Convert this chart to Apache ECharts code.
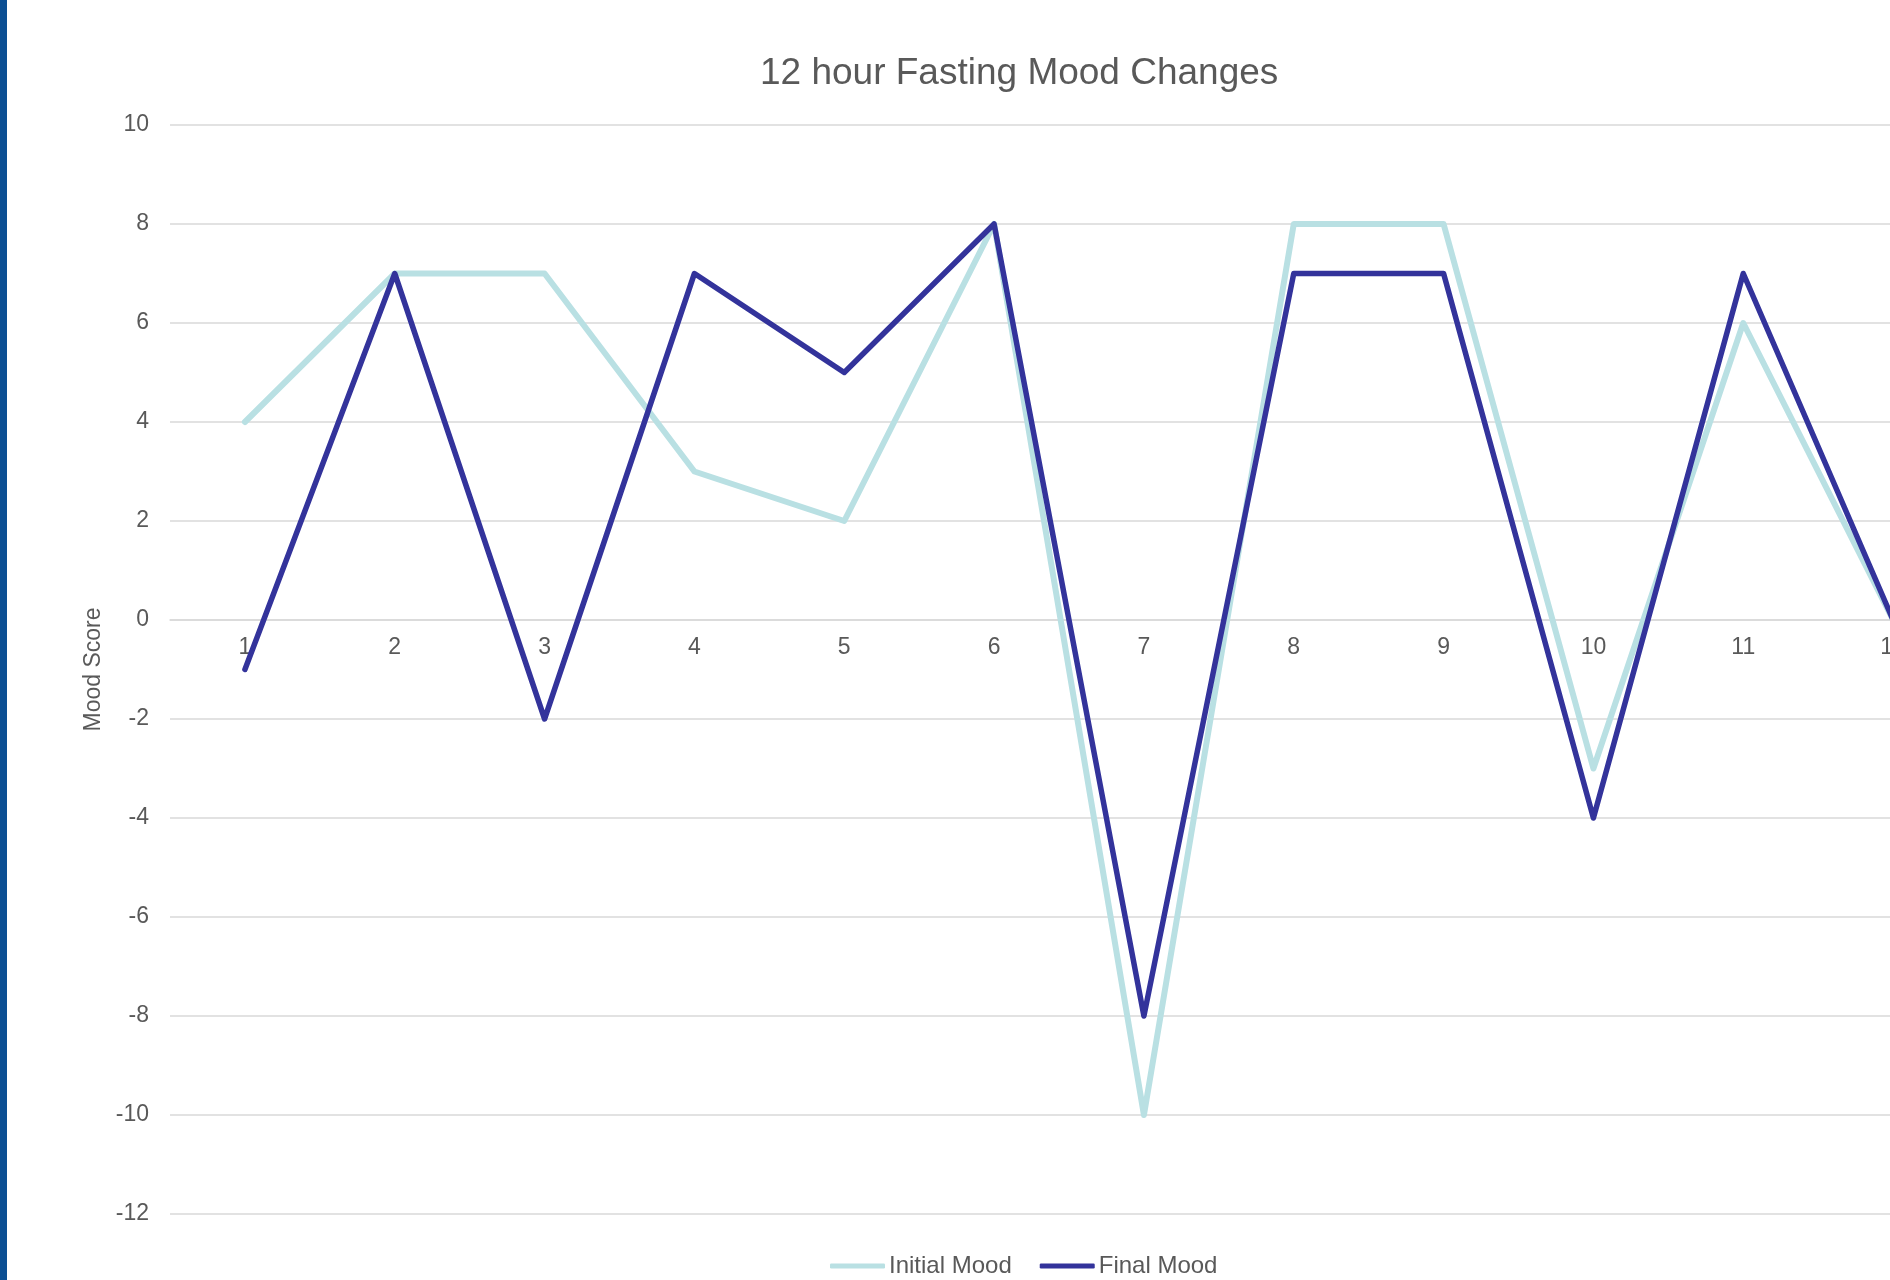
<!DOCTYPE html>
<html>
<head>
<meta charset="utf-8">
<script src="https://cdn.jsdelivr.net/npm/echarts@6/dist/echarts.min.js"></script>
<style>
html,body{margin:0;padding:0;background:#fff;}
#c{width:1890px;height:1280px;}
</style>
</head>
<body>
<div id="c"></div>
<script>
const categories = ['1','2','3','4','5','6','7','8','9','10','11','12'];
const initialMood = [4, 7, 7, 3, 2, 8, -10, 8, 8, -3, 6, 0];
const finalMood = [-1, 7, -2, 7, 5, 8, -8, 7, 7, -4, 7, 0];
const yMin = -12, yMax = 10, yStep = 2;

const FONT = '"Liberation Sans", Arial, sans-serif';
const TXT = '#595959';
const GRID = '#d9d9d9';

const chart = echarts.init(document.getElementById('c'), null, {renderer: 'canvas'});
chart.setOption({
  backgroundColor: '#ffffff',
  animation: false,
  textStyle: {fontFamily: FONT},
  title: {
    text: '12 hour Fasting Mood Changes',
    left: 760, top: 55, padding: 0,
    textStyle: {fontSize: 37, fontWeight: 'normal', color: TXT, fontFamily: FONT}
  },
  graphic: [{
    type: 'rect', left: 0, top: 0, z: 100,
    shape: {width: 7, height: 1280},
    style: {fill: '#0b4f93'}
  }],
  legend: {
    left: 830, top: 1254, padding: 0,
    itemWidth: 55, itemHeight: 5, itemGap: 28,
    icon: 'roundRect',
    textStyle: {fontSize: 24, color: TXT, fontFamily: FONT, padding: [0,0,0,-1]},
    data: ['Initial Mood', 'Final Mood']
  },
  grid: {left: 170, top: 125, width: 1798, height: 1089, containLabel: false, outerBoundsMode: 'none'},
  xAxis: {
    type: 'category',
    data: categories,
    boundaryGap: true,
    axisLine: {show: true, onZero: true, lineStyle: {color: GRID, width: 1.5}},
    axisTick: {show: false},
    axisLabel: {show: false}
  },
  yAxis: {
    type: 'value',
    min: yMin, max: yMax, interval: yStep,
    name: 'Mood Score',
    nameLocation: 'middle',
    nameGap: 64,
    nameTextStyle: {fontSize: 23, color: TXT, fontFamily: FONT},
    axisLine: {show: false},
    axisTick: {show: false},
    axisLabel: {fontSize: 23, color: TXT, fontFamily: FONT, margin: 21},
    splitLine: {show: true, lineStyle: {color: GRID, width: 1.5}}
  },
  series: [
    {
      name: 'categoryLabels', type: 'scatter', silent: true, z: 1,
      data: categories.map(c => ({name: c, value: [c, 0]})),
      symbol: 'circle', symbolSize: 0.01,
      itemStyle: {color: 'rgba(0,0,0,0)', opacity: 1},
      label: {
        show: true, position: 'bottom', distance: 16, formatter: '{b}',
        fontSize: 23, color: TXT, fontFamily: FONT, opacity: 1
      },
      emphasis: {disabled: true},
      tooltip: {show: false}
    },
    {
      name: 'Initial Mood', type: 'line', data: initialMood, z: 2,
      symbol: 'none', color: '#b9e0e3',
      lineStyle: {width: 6, color: '#b9e0e3', cap: 'round', join: 'round'}
    },
    {
      name: 'Final Mood', type: 'line', data: finalMood, z: 3,
      symbol: 'none', color: '#33339b',
      lineStyle: {width: 5.5, color: '#33339b', cap: 'round', join: 'round'}
    }
  ]
});
</script>
</body>
</html>
